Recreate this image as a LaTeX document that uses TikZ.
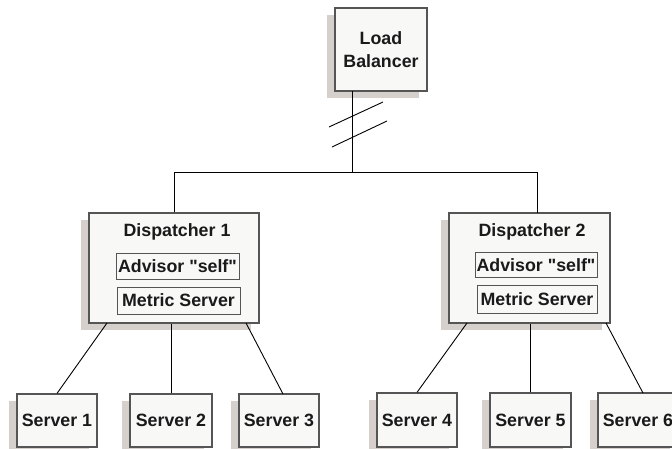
\documentclass[tikz,border=0pt]{standalone}
\usepackage{fontspec}
\setmainfont{Liberation Sans}[Ligatures=TeXOff]
\usetikzlibrary{shadows}
\definecolor{boxfill}{HTML}{F8F8F6}
\definecolor{boxline}{HTML}{555555}
\definecolor{shadowc}{HTML}{D6D0CC}
\definecolor{txt}{HTML}{1A1A1A}
\tikzset{
  box/.style={draw=boxline, line width=1.2pt, fill=boxfill, inner sep=0pt,
    drop shadow={shadow xshift=-8pt, shadow yshift=-7pt, fill=shadowc, opacity=1},
    font=\bfseries\fontsize{17.8}{20}\selectfont, text=txt, align=center},
  inbox/.style={draw=boxline, line width=1pt, fill=boxfill, inner sep=0pt,
    font=\bfseries\fontsize{17.8}{20}\selectfont, text=txt},
  lbl/.style={font=\bfseries\fontsize{17.8}{20}\selectfont, text=txt, inner sep=0pt},
  wire/.style={draw=black, line width=0.9pt}
}
\begin{document}
\begin{tikzpicture}[x=1pt,y=-1pt]
\useasboundingbox (0,0) rectangle (672,449);
% load balancer
\node[box, minimum width=92pt, minimum height=83pt] (lb) at (381,49.5) {Load\\[3pt]Balancer};
% dispatchers
\node[box, minimum width=170pt, minimum height=110pt] (d1) at (174,268) {};
\node[box, minimum width=161pt, minimum height=110pt] (d2) at (529.5,268) {};
\node[lbl] (t1) at (177,232) {Dispatcher 1};
\node[lbl] (t2) at (532,232) {Dispatcher 2};
\node[inbox, minimum width=123pt, minimum height=26pt] (a1) at (177.5,266) {Advisor "self"};
\node[inbox, minimum width=123pt, minimum height=27pt] (m1) at (178.5,300.5) {Metric Server};
\node[inbox, minimum width=122pt, minimum height=25pt] (a2) at (536,265) {Advisor "self"};
\node[inbox, minimum width=120pt, minimum height=28pt] (m2) at (537,299) {Metric Server};
% servers
\node[box, minimum width=80pt, minimum height=53pt] (s1) at (57,420.5) {Server 1};
\node[box, minimum width=82pt, minimum height=53pt] (s2) at (171,420.5) {Server 2};
\node[box, minimum width=80pt, minimum height=53pt] (s3) at (279,420.5) {Server 3};
\node[box, minimum width=80pt, minimum height=54pt] (s4) at (417,420) {Server 4};
\node[box, minimum width=81pt, minimum height=54pt] (s5) at (530.5,420) {Server 5};
\node[box, minimum width=80pt, minimum height=54pt] (s6) at (638,420) {Server 6};
% tap coordinates
\coordinate (lbtap) at (352,91);
\coordinate (bus) at (352,172);
\coordinate (d2tap) at (537,213);
\coordinate (c1) at (107,323);
\coordinate (c3) at (246,323);
\coordinate (e3) at (283,394);
\coordinate (c4) at (467,323);
\coordinate (c6) at (606,323);
\coordinate (e6) at (643,393);
\coordinate (k1a) at (329,127);
\coordinate (k1b) at (383,102);
\coordinate (k2a) at (332,147);
\coordinate (k2b) at (387,121);
% wires
\draw[wire] (lbtap) -- (bus);
\draw[wire] (k1a) -- (k1b);
\draw[wire] (k2a) -- (k2b);
\draw[wire] (d1.north) -- (d1.north |- bus) -- (d2tap |- bus) -- (d2tap);
\draw[wire] (c1) -- (s1.north);
\draw[wire] (s2.north) -- (s2.north |- d1.south);
\draw[wire] (c3) -- (e3);
\draw[wire] (c4) -- (s4.north);
\draw[wire] (s5.north) -- (s5.north |- d2.south);
\draw[wire] (c6) -- (e6);
\end{tikzpicture}
\end{document}
